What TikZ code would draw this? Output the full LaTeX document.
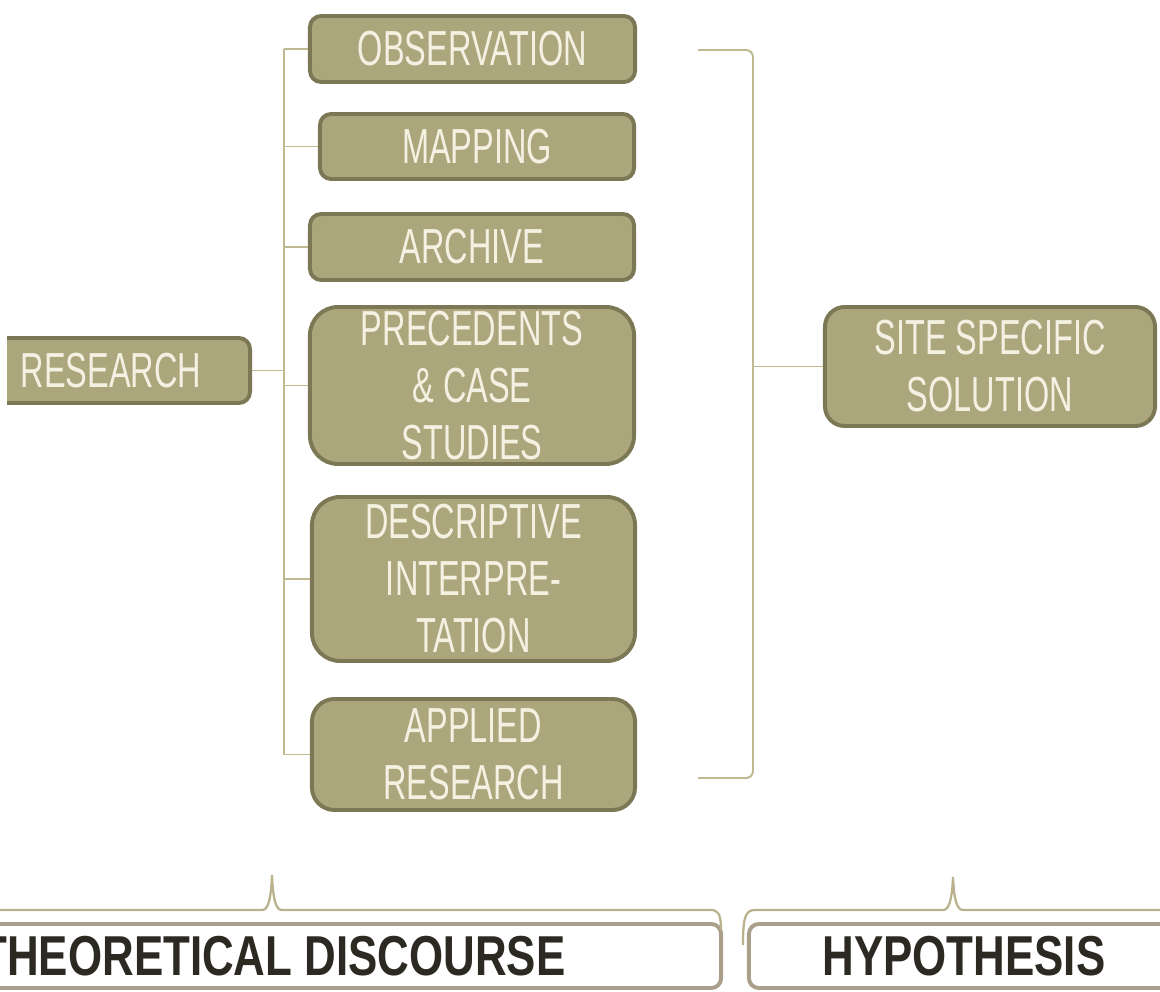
\documentclass[tikz,border=0pt]{standalone}
\usepackage{fontspec}
\newfontfamily\boxfont[FakeStretch=0.66]{Liberation Sans}
\newfontfamily\headfont[FakeStretch=0.78]{Liberation Sans}
\usetikzlibrary{positioning}
\definecolor{olivefill}{HTML}{ABA67C}
\definecolor{olivedark}{HTML}{7C7754}
\definecolor{cream}{HTML}{F4F1E2}
\definecolor{linkcol}{HTML}{BFB891}
\definecolor{framecol}{HTML}{A99F8A}
\definecolor{bracecol}{HTML}{B9B28C}
\definecolor{darktext}{HTML}{2B2922}

\begin{document}
\begin{tikzpicture}[x=0.025cm,y=-0.025cm,
  topic/.style={rectangle,rounded corners=8pt,draw=olivedark,line width=2.8pt,fill=olivefill,text=cream,align=center,inner sep=0pt,font=\boxfont\fontsize{35}{40.5}\selectfont},
  bigtopic/.style={topic,rounded corners=20pt},
  link/.style={draw=linkcol,line width=1.4pt},
  outlinebox/.style={rectangle,rounded corners=7pt,draw=framecol,line width=2.8pt,fill=white,inner sep=0pt,text=darktext,font=\headfont\bfseries\fontsize{40}{44}\selectfont},
  curly/.style={draw=bracecol,line width=1.6pt}
]
\useasboundingbox (0,0) rectangle (1160,992);

% Recherche und ihre Methoden
\begin{scope}
  \clip (7,300) rectangle (300,440);
  \node[topic,minimum width=6.95cm,minimum height=1.625cm] (research) at (111,370.5) {RESEARCH};
\end{scope}
\node[topic,minimum width=8.125cm,minimum height=1.65cm] (obs) at (472.5,49) {OBSERVATION};
\node[topic,minimum width=7.85cm,minimum height=1.625cm] (mapping) at (477,146.5) {MAPPING};
\node[topic,minimum width=8.1cm,minimum height=1.65cm] (archive) at (472,247) {ARCHIVE};
\node[bigtopic,minimum width=8.1cm,minimum height=3.925cm] (precedents) at (472,385.5) {PRECEDENTS\\\& CASE\\STUDIES};
\node[bigtopic,minimum width=8.075cm,minimum height=4.1cm] (descriptive) at (473.5,579) {DESCRIPTIVE\\INTERPRE-\\TATION};
\node[topic,rounded corners=16pt,minimum width=8.075cm,minimum height=2.775cm] (applied) at (473.5,754.5) {APPLIED\\RESEARCH};

% Ergebnis
\node[topic,rounded corners=14pt,minimum width=8.25cm,minimum height=2.975cm] (site) at (990,366.5) {SITE SPECIFIC\\SOLUTION};

% Klammern links und rechts
\coordinate (ltop) at (284,49);
\coordinate (lbot) at (284,755);
\coordinate (rtop) at (698,50);
\coordinate (rspine) at (753,50);
\coordinate (rbot) at (698,778);
\draw[link] (ltop) -- (lbot);
\draw[link] (research.east) -- (research.east -| ltop);
\foreach \n in {obs,mapping,archive,precedents,descriptive,applied}
  \draw[link] (\n.west -| ltop) -- (\n.west);
\draw[link,rounded corners=5pt] (rtop) -- (rspine) |- (rbot);
\draw[link] (site.west) -- (site.west -| rspine);

% Unterer Teil
\node[outlinebox,minimum width=22.4cm,minimum height=1.6cm] (theory) at (273,956) {THEORETICAL DISCOURSE};
\node[outlinebox,minimum width=10.75cm,minimum height=1.6cm] (hypo) at (964,956) {HYPOTHESIS};
\draw[curly] (-20,910) -- (262,910) .. controls (268,910) and (271,900) .. (272,875)
  .. controls (273,900) and (276,910) .. (282,910) -- (711,910)
  .. controls (718,910) and (721,914) .. (721,930);
\draw[curly] (743,945) .. controls (743,918) and (745,910) .. (755,910) -- (943,910)
  .. controls (949,910) and (952,900) .. (953,877)
  .. controls (954,900) and (957,910) .. (963,910) -- (1170,910);

\end{tikzpicture}
\end{document}
